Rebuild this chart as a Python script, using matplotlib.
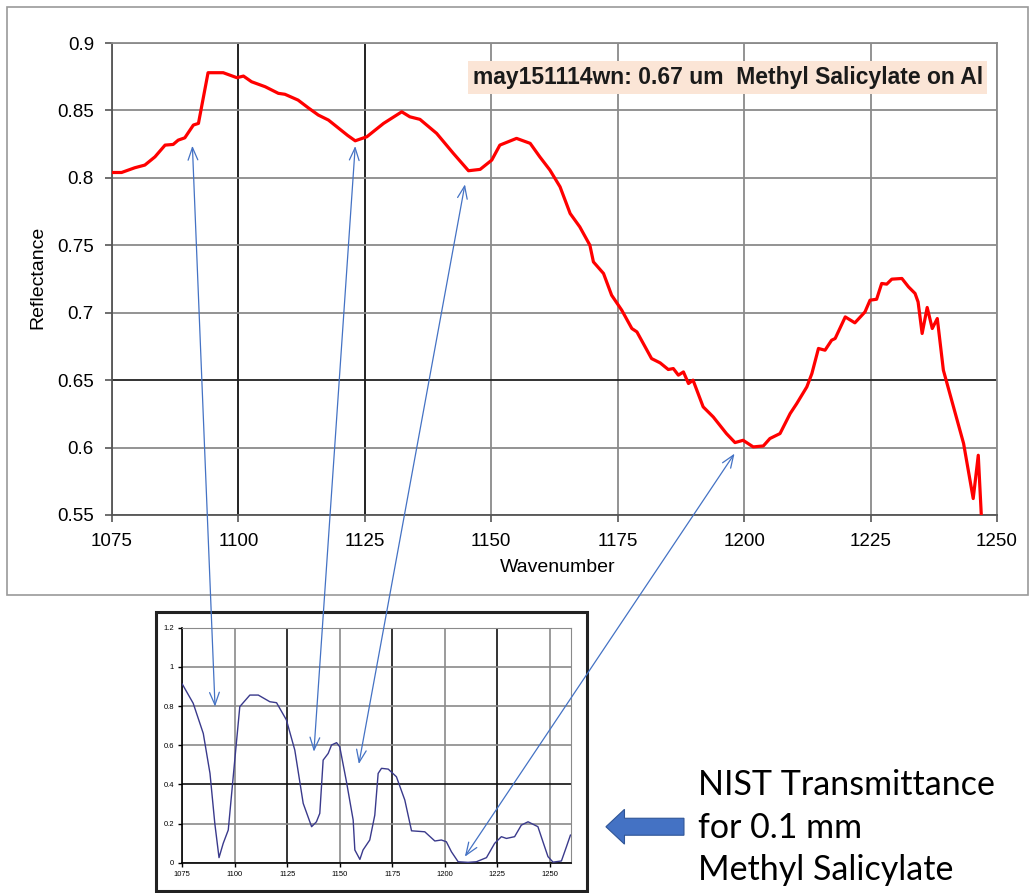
import matplotlib
matplotlib.use("Agg")
import matplotlib.pyplot as plt
from matplotlib.patches import Rectangle, FancyArrow, ConnectionPatch
from matplotlib.ticker import FuncFormatter

plt.rcParams['font.family'] = ['Liberation Sans', 'DejaVu Sans']

# measured reflectance, may151114wn
wn = [1075.0, 1076.9, 1079.5, 1081.5, 1083.5, 1085.5, 1087.1, 1088.1, 1089.4, 1091.1,
      1092.1, 1094.0, 1097.0, 1099.7, 1101.0, 1102.6, 1105.3, 1107.9, 1109.2, 1111.8,
      1113.8, 1115.8, 1117.8, 1120.1, 1121.6, 1123.1, 1125.4, 1128.7, 1132.3, 1133.9,
      1135.9, 1139.2, 1142.5, 1145.5, 1147.8, 1150.1, 1151.7, 1155.0, 1157.7, 1159.6,
      1161.6, 1163.6, 1165.6, 1167.5, 1169.5, 1170.2, 1172.2, 1173.8, 1175.8, 1177.8,
      1178.8, 1181.7, 1183.4, 1185.0, 1186.0, 1187.0, 1188.0, 1189.0, 1189.9, 1191.9,
      1193.9, 1196.5, 1198.2, 1199.8, 1201.8, 1203.8, 1205.1, 1207.1, 1209.1, 1210.4,
      1212.4, 1213.4, 1214.7, 1216.0, 1217.3, 1218.0, 1220.0, 1221.9, 1223.9, 1224.9,
      1226.2, 1227.2, 1228.2, 1229.2, 1231.2, 1232.5, 1233.8, 1234.4, 1235.2, 1236.2,
      1237.2, 1238.2, 1239.4, 1241.4, 1243.4, 1245.3, 1246.3, 1246.9]
refl = [0.804, 0.804, 0.8075, 0.8095, 0.8156, 0.8243, 0.8248, 0.828, 0.8297, 0.8392,
        0.8404, 0.878, 0.878, 0.8743, 0.8755, 0.8713, 0.8676, 0.8627, 0.862, 0.8577,
        0.852, 0.8466, 0.8429, 0.836, 0.8315, 0.8275, 0.8305, 0.8404, 0.849, 0.8453,
        0.8434, 0.833, 0.8182, 0.8053, 0.8063, 0.8132, 0.8243, 0.8293, 0.8256, 0.8156,
        0.8058, 0.7934, 0.7736, 0.7637, 0.7501, 0.7377, 0.7291, 0.713, 0.7019, 0.6883,
        0.6858, 0.666, 0.6628, 0.6579, 0.6586, 0.6537, 0.6561, 0.6475, 0.65, 0.6302,
        0.6227, 0.6104, 0.6037, 0.6054, 0.6005, 0.6012, 0.6067, 0.6104, 0.6252, 0.6326,
        0.645, 0.6549, 0.6735, 0.6722, 0.6796, 0.6809, 0.6969, 0.6925, 0.7006, 0.7093,
        0.71, 0.7217, 0.7212, 0.7249, 0.7254, 0.7192, 0.7143, 0.708, 0.6846, 0.7039,
        0.6883, 0.6957, 0.6574, 0.6302, 0.603, 0.5622, 0.5943, 0.55]

# NIST transmittance, 0.1 mm methyl salicylate
nist_wn = [1075.0, 1080.2, 1085.0, 1088.2, 1090.5, 1092.5, 1094.5, 1096.9, 1100.0, 1102.4,
           1107.2, 1111.2, 1116.7, 1119.9, 1124.6, 1128.6, 1132.6, 1136.6, 1138.9, 1140.5,
           1142.1, 1144.5, 1146.1, 1148.5, 1150.0, 1153.2, 1156.4, 1157.2, 1159.6, 1161.1,
           1164.3, 1166.7, 1168.3, 1169.9, 1173.1, 1177.0, 1181.0, 1184.2, 1190.5, 1195.3,
           1198.4, 1200.8, 1203.2, 1206.4, 1211.1, 1215.1, 1219.9, 1223.8, 1227.0, 1229.4,
           1233.3, 1236.5, 1239.7, 1244.4, 1246.8, 1249.2, 1251.6, 1255.6, 1258.0, 1259.9]
nist_t = [0.912, 0.814, 0.66, 0.456, 0.20, 0.026, 0.099, 0.167, 0.524, 0.797,
          0.856, 0.856, 0.822, 0.817, 0.729, 0.575, 0.303, 0.184, 0.209, 0.252,
          0.524, 0.558, 0.601, 0.613, 0.592, 0.414, 0.218, 0.065, 0.017, 0.065,
          0.116, 0.243, 0.456, 0.482, 0.478, 0.439, 0.32, 0.163, 0.158, 0.111,
          0.116, 0.107, 0.056, 0.005, 0.002, 0.005, 0.026, 0.099, 0.133, 0.124,
          0.133, 0.192, 0.209, 0.184, 0.107, 0.031, 0.003, 0.009, 0.082, 0.141]

# matching features: (main wavenumber, reflectance) <-> (NIST wavenumber, transmittance)
links_main = [(1090.9, 0.8238), (1123.1, 0.8236), (1144.8, 0.7952), (1198.1, 0.5955)]
links_nist = [(1090.6, 0.797), (1137.7, 0.567), (1159.1, 0.504), (1209.6, 0.031)]

label = "may151114wn: 0.67 um  Methyl Salicylate on Al"
nist_label = "NIST Transmittance\nfor 0.1 mm\nMethyl Salicylate"

fig = plt.figure(figsize=(10.31, 8.93), dpi=100)

# chart-area frame of the main chart
fig.patches.append(Rectangle((0.0068, 0.3337), 0.99, 0.6585, transform=fig.transFigure,
                             facecolor='white', edgecolor='#9a9a9a', lw=1.2, zorder=-2))
# frame of the pasted NIST chart
fig.patches.append(Rectangle((0.1513, 0.0026), 0.4183, 0.3117, transform=fig.transFigure,
                             facecolor='white', edgecolor='#222222', lw=2.2, zorder=-2))

ax = fig.add_axes([0.1086, 0.4233, 0.8584, 0.5285])
ax.plot(wn, refl, color='red', lw=2.3, zorder=3)
ax.set_xlim(1075, 1250)
ax.set_ylim(0.55, 0.9)
ax.set_xticks(range(1075, 1251, 25))
ax.set_yticks([0.55, 0.6, 0.65, 0.7, 0.75, 0.8, 0.85, 0.9])
ax.yaxis.set_major_formatter(FuncFormatter(lambda v, p: f"{v:g}"))
ax.tick_params(labelsize=13.5, length=5, width=1.2, color='#555555', pad=8)
ax.grid(True, color='#8a8a8a', lw=1.3)
for i, g in enumerate(ax.get_xgridlines()):
    if i in (1, 2):
        g.set_color('#111111')
for i, g in enumerate(ax.get_ygridlines()):
    if i == 2:
        g.set_color('#222222')
for s in ax.spines.values():
    s.set_color('#8a8a8a')
    s.set_linewidth(1.3)
ax.spines['left'].set_color('#555555')
ax.spines['bottom'].set_color('#555555')
ax.set_xlabel("Wavenumber", fontsize=14)
ax.set_ylabel("Reflectance", fontsize=14)
ax.xaxis.set_label_coords(0.504, -0.112)
ax.xaxis.label.set_va('center')
ax.yaxis.set_label_coords(-0.084, 0.504)
ax.yaxis.label.set_va('center')
ax.text(0.984, 0.927, label, transform=ax.transAxes, ha='right', va='center',
        fontsize=16.5, fontweight='bold', color='#1a1a1a', zorder=5,
        bbox=dict(boxstyle='square,pad=0.2', facecolor='#fbe5d6', edgecolor='none'))

inset = fig.add_axes([0.1768, 0.0339, 0.3767, 0.2632])
inset.plot(nist_wn, nist_t, color='#3a3a8c', lw=1.0, zorder=3)
inset.set_xlim(1075, 1260)
inset.set_ylim(0, 1.2)
inset.set_xticks(range(1075, 1251, 25))
inset.set_yticks([0, 0.2, 0.4, 0.6, 0.8, 1.0, 1.2])
inset.yaxis.set_major_formatter(FuncFormatter(lambda v, p: f"{v:g}"))
inset.tick_params(labelsize=5.5, length=3, width=1, pad=3)
inset.grid(True, color='#8a8a8a', lw=1.2)
for i, g in enumerate(inset.get_xgridlines()):
    if i in (2, 4, 6):
        g.set_color('#111111')
for i, g in enumerate(inset.get_ygridlines()):
    if i == 2:
        g.set_color('#111111')
inset.spines['top'].set_color('#8a8a8a')
inset.spines['right'].set_color('#8a8a8a')
inset.spines['left'].set_linewidth(1.2)
inset.spines['bottom'].set_linewidth(1.2)

# double-headed links between matching features
for (xa, ya), (xb, yb) in zip(links_main, links_nist):
    con = ConnectionPatch(xyA=(xa, ya), coordsA=ax.transData,
                          xyB=(xb, yb), coordsB=inset.transData,
                          arrowstyle='<->,head_length=0.9,head_width=0.35',
                          color='#4472c4', lw=0.9, shrinkA=0, shrinkB=0, zorder=10)
    fig.add_artist(con)

# block arrow pointing at the NIST chart
fig.patches.append(FancyArrow(0.6634, 0.0742, -0.0757, 0.0, width=0.019,
                              head_width=0.039, head_length=0.018,
                              length_includes_head=True, transform=fig.transFigure,
                              facecolor='#4472c4', edgecolor='#2f5597', lw=0.8))
fig.text(0.677, 0.1385, nist_label, fontsize=24.5, family=['Lato', 'DejaVu Sans'],
         va='top', ha='left', linespacing=1.4, color='black')

fig.savefig("out.png", dpi=100)
